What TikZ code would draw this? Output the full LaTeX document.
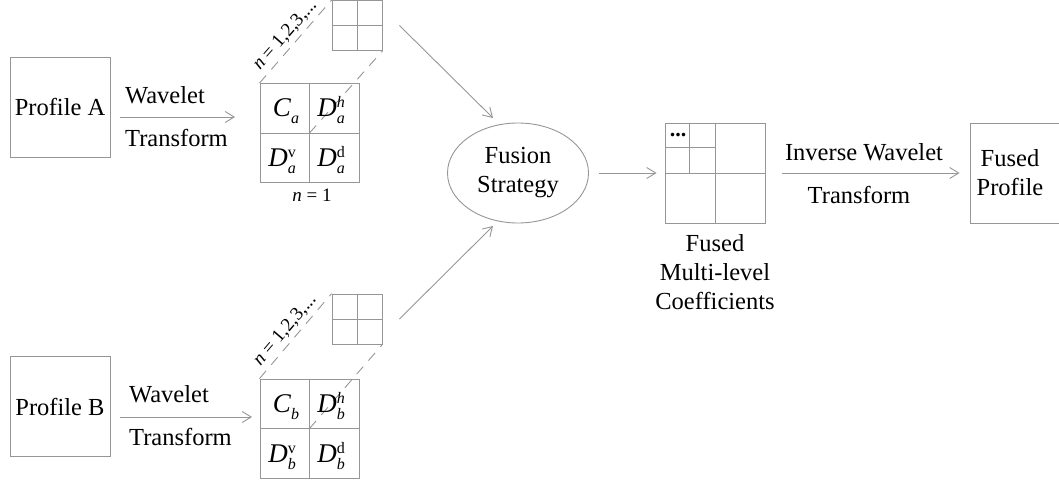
\documentclass[tikz,border=0pt]{standalone}
\usepackage{fontspec}
\setmainfont{LiberationSerif}[Extension=.ttf, UprightFont=*-Regular, ItalicFont=*-Italic, BoldFont=*-Bold, BoldItalicFont=*-BoldItalic]
\usetikzlibrary{arrows.meta,shapes.geometric,calc}
\definecolor{gc}{RGB}{150,150,150}
\newcommand{\cell}[3]{\textit{#1}\raisebox{0pt}[0pt][0pt]{\makebox[0pt][l]{\raisebox{-7pt}{\fontsize{16}{16}\selectfont\textit{#2}}}\raisebox{9pt}{\fontsize{16}{16}\selectfont #3}}}
\begin{document}
\begin{tikzpicture}[x=1pt,y=-1pt,
  ln/.style={draw=gc, line width=0.9pt},
  arr/.style={ln, -{Straight Barb[length=9pt,width=11pt]}},
  dsh/.style={ln, dash pattern=on 10pt off 8pt},
  box/.style={ln, rectangle, inner sep=0pt},
  big/.style={font=\fontsize{24.5}{29}\selectfont},
  lab/.style={big, inner sep=0pt},
  cellt/.style={inner sep=0pt, font=\fontsize{27}{30}\selectfont},
  small/.style={inner sep=0pt, font=\fontsize{19}{22}\selectfont}
]
\useasboundingbox (0,0) rectangle (1059,481);

% profiles
\node[box, minimum width=100pt, minimum height=100pt, big] (pA) at (60,107) {Profile A};
\node[box, minimum width=100pt, minimum height=100pt, big] (pB) at (60,406.5) {Profile B};

% coefficient grids A
\node[box, minimum size=99pt] (gA) at (309.5,133) {};
\node[box, minimum size=50pt] (sA) at (357,25.5) {};
\draw[ln] (gA.north) -- (gA.south) (gA.west) -- (gA.east);
\draw[ln] (sA.north) -- (sA.south) (sA.west) -- (sA.east);
\draw[dsh] (gA.north west) -- (sA.north west);
\draw[dsh] (gA.center) -- (sA.south east);
\node[small, rotate=48.7] (nA) at (285,35) {\textit{n} = 1,2,3,...};
\node[cellt] (ca) at (282,108) {\cell{C}{a}{}};
\node[cellt] (dah) at (331,108) {\cell{D}{a}{\textit{h}}};
\node[cellt] (dav) at (282,158) {\cell{D}{a}{v}};
\node[cellt] (dad) at (331,158) {\cell{D}{a}{d}};
\node[small] (n1) at (312,195) {\textit{n} = 1};

% coefficient grids B
\node[box, minimum size=99pt] (gB) at (309.5,428.5) {};
\node[box, minimum size=50pt] (sB) at (357,319) {};
\draw[ln] (gB.north) -- (gB.south) (gB.west) -- (gB.east);
\draw[ln] (sB.north) -- (sB.south) (sB.west) -- (sB.east);
\draw[dsh] (gB.north west) -- (sB.north west);
\draw[dsh] (gB.center) -- (sB.south east);
\node[small, rotate=49.7] (nB) at (285,330) {\textit{n} = 1,2,3,...};
\node[cellt] (cb) at (282,404) {\cell{C}{b}{}};
\node[cellt] (dbh) at (331,404) {\cell{D}{b}{\textit{h}}};
\node[cellt] (dbv) at (282,454) {\cell{D}{b}{v}};
\node[cellt] (dbd) at (331,454) {\cell{D}{b}{d}};

% wavelet arrows
\coordinate (aA) at (235,117);
\draw[arr] ([shift={(10,10)}]pA.east) -- (aA);
\node[lab, anchor=west] (wA1) at (125,95) {Wavelet};
\node[lab, anchor=west] (wA2) at (125,138) {Transform};
\coordinate (aB) at (252,417);
\draw[arr] ([shift={(10,10.5)}]pB.east) -- (aB);
\node[lab, anchor=west] (wB1) at (129,394) {Wavelet};
\node[lab, anchor=west] (wB2) at (129,437) {Transform};

% fusion strategy
\node[ellipse, ln, minimum width=141pt, minimum height=100pt, inner sep=0pt, big, align=center] (fs) at (518,173) {Fusion\\Strategy};
\coordinate (tA) at (493,118);
\coordinate (tB) at (493,226);
\draw[arr] ([xshift=17pt]sA.east) -- (tA);
\draw[arr] ([xshift=17pt]sB.east) -- (tB);

% fused grid
\node[box, minimum size=100pt] (fg) at (715,173) {};
\draw[ln] (fg.north) -- (fg.south) (fg.west) -- (fg.east);
\draw[ln] ($(fg.north west)+(25,0)$) -- ($(fg.north west)+(25,50)$);
\draw[ln] ($(fg.north west)+(0,25)$) -- ($(fg.north west)+(50,25)$);
\node[inner sep=0pt, font=\fontsize{22}{24}\selectfont\bfseries] (dots) at (678,135) {...};
\node[big, align=center] (fml) at (715,272) {Fused\\Multi-level\\Coefficients};
\draw[arr, shorten <=10pt, shorten >=8pt] (fs.east) -- (fg.west);

% inverse transform
\node[box, minimum width=92pt, minimum height=100pt] (fp) at (1016,173) {};
\node[big, align=center] (fpt) at (1010,173) {Fused\\Profile};
\draw[arr, shorten <=17pt, shorten >=10pt] (fg.east) -- (fp.west);
\node[lab] (iw1) at (864,152) {Inverse Wavelet};
\node[lab] (iw2) at (859,195) {Transform};
\end{tikzpicture}
\end{document}
